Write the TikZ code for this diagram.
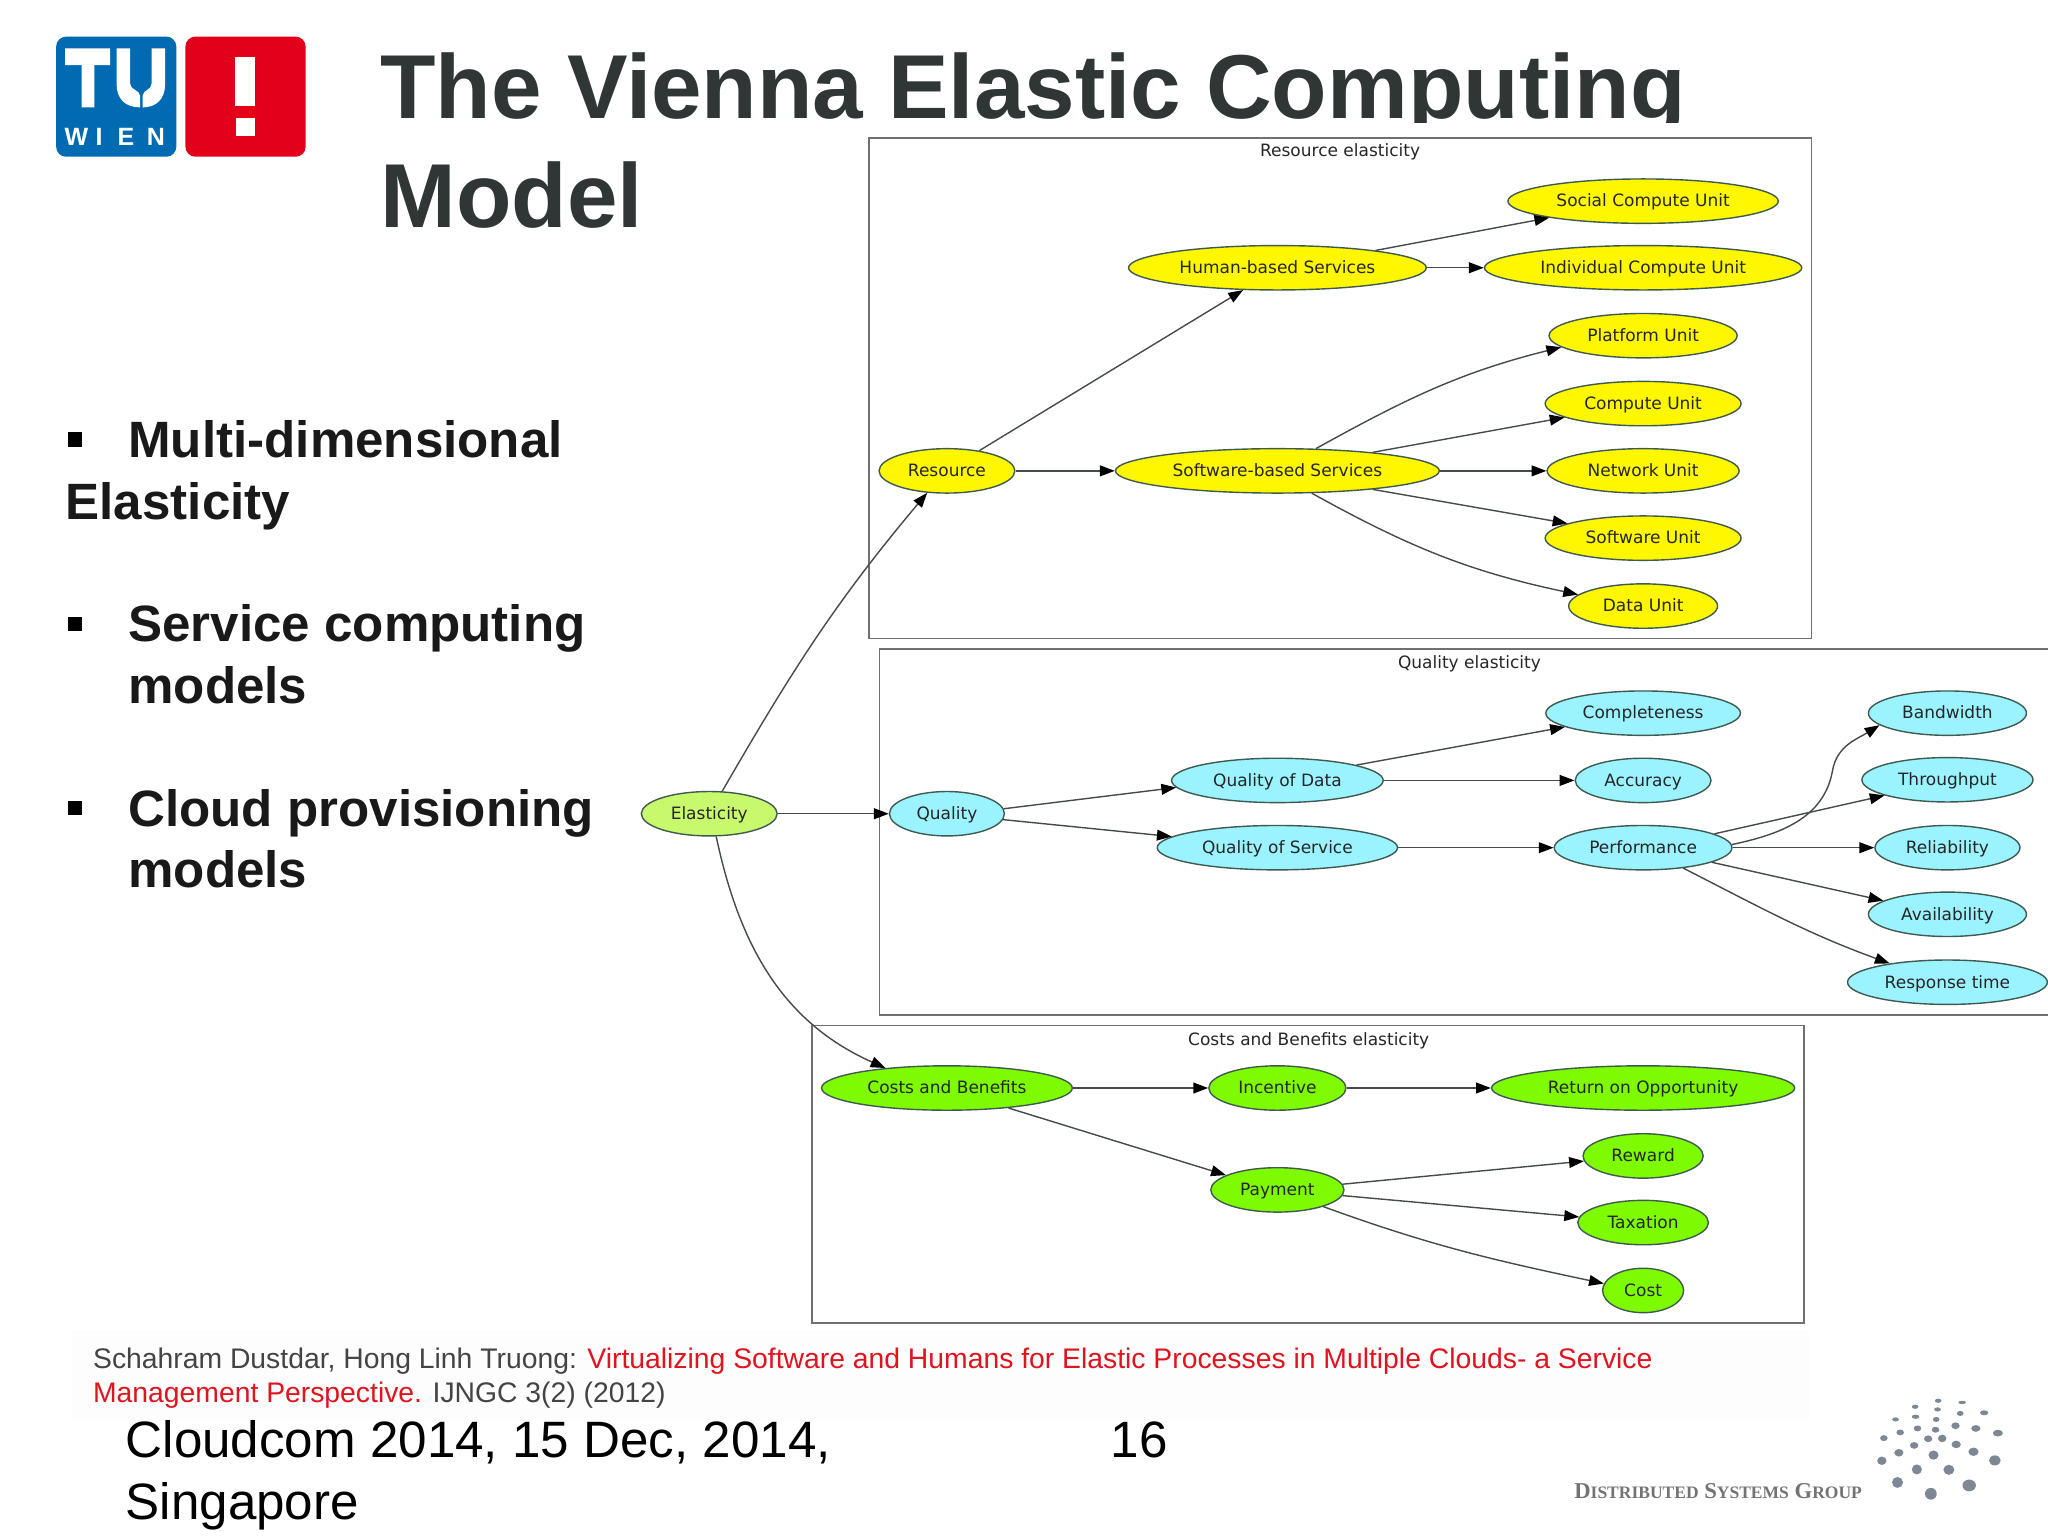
\documentclass[tikz,border=0pt]{standalone}
\usepackage{fontspec}
\setmainfont{Liberation Sans}
\newfontfamily\gfont{DejaVu Sans}
\newfontfamily\sfont{Liberation Serif}
\usetikzlibrary{shapes.geometric,arrows.meta}
\definecolor{titlec}{HTML}{303636}
\definecolor{edgec}{HTML}{454B4B}
\definecolor{framec}{HTML}{707070}
\definecolor{ringc}{HTML}{3F5A50}
\definecolor{cyanf}{HTML}{9BF3FF}
\definecolor{yelf}{HTML}{FFF700}
\definecolor{grnf}{HTML}{7FFB00}
\definecolor{limef}{HTML}{C8F96C}
\definecolor{tublue}{HTML}{006AB3}
\definecolor{tured}{HTML}{E2001A}
\definecolor{refred}{HTML}{E0141E}
\definecolor{refgray}{HTML}{444444}
\definecolor{dotc}{HTML}{7E8894}
\definecolor{refbg}{HTML}{FDFDFD}
\tikzset{
  elli/.style={ellipse,draw=ringc,line width=0.7pt,inner sep=0pt,text=black!85,
     font=\gfont\fontsize{8.5}{10}\selectfont,minimum height=22.2pt,text height=6.9pt,text depth=1.1pt,align=center},
  edge/.style={draw=edgec,line width=0.7pt,-{Triangle[length=7.4pt,width=5.4pt,fill=black,color=black]}},
  frame/.style={draw=framec,line width=0.75pt},
  glabel/.style={font=\gfont\fontsize{8.5}{10}\selectfont,text=black!85,inner sep=0pt},
  bigtitle/.style={font=\bfseries\fontsize{45.4}{50}\selectfont,text=titlec,anchor=base west,inner sep=0pt},
  bullettext/.style={font=\bfseries\fontsize{25.55}{30}\selectfont,text=black!90,anchor=base west,inner sep=0pt},
  foot/.style={font=\fontsize{25.57}{30}\selectfont,text=black,anchor=base west,inner sep=0pt},
  refline/.style={font=\fontsize{14.16}{17}\selectfont,anchor=base west,inner sep=0pt},
  sq/.style={fill=black,draw=none},
  whitebit/.style={fill=white,draw=none},
  wien/.style={font=\bfseries\fontsize{12.5}{14}\selectfont,text=white,inner sep=0pt,anchor=base},
}
% name, x, y, width, colour, text
\newcommand\gn[6]{\node[elli,fill=#5,minimum width=#4*0.653pt] (#1) at (#2,#3) {#6};}
\begin{document}
\begin{tikzpicture}[x=0.653061pt,y=-0.653061pt]
\useasboundingbox (0,0) rectangle (1568,1176);
% logo
\fill[tublue,rounded corners=5pt] (43,28) rectangle (135,120);
\fill[tured,rounded corners=5pt] (142,28) rectangle (234,120);
\fill[whitebit] (180,44) rectangle (195,81);
\fill[whitebit] (181,90) rectangle (195,104);
\begin{scope}[shift={(38.3,23)},scale=0.2552]
  \fill[whitebit] (45,55) -- (180,55) -- (180,105) -- (133,105) -- (133,232) -- (95,232) -- (95,105) -- (45,105) -- cycle;
  \fill[whitebit] (200,55) -- (240,55) -- (240,160) .. controls (240,180) and (270,180) .. (270,197) -- (270,232) .. controls (225,232) and (200,205) .. (200,165) -- cycle;
  \fill[whitebit] (345,55) -- (305,55) -- (305,160) .. controls (305,180) and (278,180) .. (278,197) -- (278,232) .. controls (320,232) and (345,205) .. (345,165) -- cycle;
  \node[wien] (w1) at (79,345) {W};
  \node[wien] (w2) at (147,345) {I};
  \node[wien] (w3) at (228,345) {E};
  \node[wien] (w4) at (318,345) {N};
\end{scope}
% title
\begin{scope}
  \clip (280,0) rectangle (1400,94);
  \node[bigtitle] (title1) at (291,90.5) {The Vienna Elastic Computing};
\end{scope}
\node[bigtitle] (title2) at (291,174) {Model};
% bullets
\fill[sq] (52,331) rectangle (63,342);
\fill[sq] (52,472) rectangle (63,483);
\fill[sq] (52,613) rectangle (63,624);
\node[bullettext] (b1) at (98,350.5) {Multi-dimensional};
\node[bullettext] (b1b) at (50,397.5) {Elasticity};
\node[bullettext] (b2) at (98,491.5) {Service computing};
\node[bullettext] (b2b) at (98,538.5) {models};
\node[bullettext] (b3) at (98,632.5) {Cloud provisioning};
\node[bullettext] (b3b) at (98,679.5) {models};
% frames
\draw[frame] (665.5,105.5) rectangle (1387,489);
\draw[frame] (1580,497) -- (673.5,497) -- (673.5,777) -- (1580,777);
\draw[frame] (621.5,785) rectangle (1381,1013);
\node[glabel] (lab1) at (1026,116.5) {Resource elasticity};
\node[glabel] (lab2) at (1125,508.5) {Quality elasticity};
\node[glabel] (lab3) at (1002,796.5) {Costs and Benefits elasticity};
% nodes
\gn{scu}{1258}{154}{207}{yelf}{Social Compute Unit}
\gn{hb}{978}{205}{228}{yelf}{Human-based Services}
\gn{icu}{1258}{205}{243}{yelf}{Individual Compute Unit}
\gn{plat}{1258}{257}{144}{yelf}{Platform Unit}
\gn{comp}{1258}{309}{150}{yelf}{Compute Unit}
\gn{res}{725}{360.5}{104}{yelf}{Resource}
\gn{sw}{978}{360.5}{248}{yelf}{Software-based Services}
\gn{net}{1258}{360.5}{147}{yelf}{Network Unit}
\gn{softu}{1258}{412}{150}{yelf}{Software Unit}
\gn{data}{1258}{464}{114}{yelf}{Data Unit}
\gn{el}{543}{623}{104}{limef}{Elasticity}
\gn{q}{725}{623}{88}{cyanf}{Quality}
\gn{cpl}{1258}{546}{149}{cyanf}{Completeness}
\gn{acc}{1258}{597.5}{104}{cyanf}{Accuracy}
\gn{qod}{978}{597.5}{162}{cyanf}{Quality of Data}
\gn{qos}{978}{649}{184}{cyanf}{Quality of Service}
\gn{perf}{1258}{649}{136}{cyanf}{Performance}
\gn{band}{1491}{546}{121}{cyanf}{Bandwidth}
\gn{thr}{1491}{597}{131}{cyanf}{Throughput}
\gn{rel}{1491}{649}{111}{cyanf}{Reliability}
\gn{avail}{1491}{700}{121}{cyanf}{Availability}
\gn{resp}{1491}{752}{153}{cyanf}{Response time}
\gn{cb}{725}{833}{192}{grnf}{Costs and Benefits}
\gn{inc}{978}{833}{105}{grnf}{Incentive}
\gn{roo}{1258}{833}{232}{grnf}{Return on Opportunity}
\gn{pay}{978}{911}{102}{grnf}{Payment}
\gn{rew}{1258}{885}{92}{grnf}{Reward}
\gn{tax}{1258}{936}{100}{grnf}{Taxation}
\gn{cost}{1258}{988}{62}{grnf}{Cost}
\coordinate (bwmid) at (1403,590);
% edges
\draw[edge] (el.60) to[out=60,in=230] (res.228.6);
\draw[edge] (el.-73.6) to[out=-78,in=156] (cb.162);
\draw[edge] (el) -- (q);
\draw[edge] (res.32.6) -- (hb.213.7);
\draw[edge] (res) -- (sw);
\draw[edge] (hb.10) -- (scu.190.8);
\draw[edge] (hb) -- (icu);
\draw[edge] (sw.30.6) to[out=29,in=194] (plat.188.7);
\draw[edge] (sw.11.8) -- (comp.190.4);
\draw[edge] (sw) -- (net);
\draw[edge] (sw.-11.3) -- (softu.169.8);
\draw[edge] (sw.-33.7) to[out=-29,in=168] (data.170);
\draw[edge] (q.5.4) -- (qod.184.8);
\draw[edge] (q.-6.8) -- (qos.174);
\draw[edge] (qod.11.8) -- (cpl.190.4);
\draw[edge] (qod) -- (acc);
\draw[edge] (qos) -- (perf);
\draw[edge] (perf.2.6) to[out=12,in=-100] (bwmid) to[out=80,in=212] (band.190);
\draw[edge] (perf.11.3) -- (thr.194.3);
\draw[edge] (perf) -- (rel);
\draw[edge] (perf.-12.4) -- (avail.168.2);
\draw[edge] (perf.-27.8) to[out=-27,in=160] (resp.162.8);
\draw[edge] (cb) -- (inc);
\draw[edge] (inc) -- (roo);
\draw[edge] (cb.-18.4) -- (pay.164.9);
\draw[edge] (pay.5.8) -- (rew.185);
\draw[edge] (pay.-5.8) -- (tax.175);
\draw[edge] (pay.-20.4) to[out=-20,in=168] (cost.170);
% reference
\fill[refbg] (55,1018) rectangle (1385,1088);
\node[refline] (ref1) at (71,1048) {\textcolor{refgray}{Schahram Dustdar, Hong Linh Truong: }\textcolor{refred}{Virtualizing Software and Humans for Elastic Processes in Multiple Clouds- a Service}};
\node[refline] (ref2) at (71,1074) {\textcolor{refred}{Management Perspective.} \textcolor{refgray}{IJNGC 3(2) (2012)}};
% footer
\node[foot] (f1) at (96,1116) {Cloudcom 2014, 15 Dec, 2014,};
\node[foot] (f2) at (96,1163) {Singapore};
\node[foot] (f3) at (850,1116) {16};
\node[anchor=base west,inner sep=0pt,text=black!55,font=\sfont\bfseries\fontsize{11.35}{14}\selectfont] (dsg) at (1205,1147)
  {D{\fontsize{8.75}{11}\selectfont ISTRIBUTED} S{\fontsize{8.75}{11}\selectfont YSTEMS} G{\fontsize{8.75}{11}\selectfont ROUP}};
\begin{scope}[shift={(1301.7,1026)},x=0.2552*0.653061pt,y=-0.2552*0.653061pt]
\foreach \a/\b/\c/\d in {714/182/8/5,786/187/9/4,645/200/8/5,712/208/8/5,780/220/8/6,852/218/10/6,586/238/8/5,646/230/9/5,708/238/8/6,600/277/9/7,652/265/9/7,706/269/9/7,766/257/10/8,827/265/11/8,893/279/12/8,551/294/9/7,684/296/10/8,726/295/10/9,642/316/10/8,768/313/11/9,596/338/11/9,820/335/12/10,545/362/11/10,700/345/12/11,884/361/14/12,650/388/12/12,746/389/13/12,592/427/13/13,807/436/16/14,692/461/14/14}
  \fill[dotc] (\a,\b) ellipse [x radius=\c*0.21pt,y radius=\d*0.21pt];
\end{scope}
\end{tikzpicture}
\end{document}
